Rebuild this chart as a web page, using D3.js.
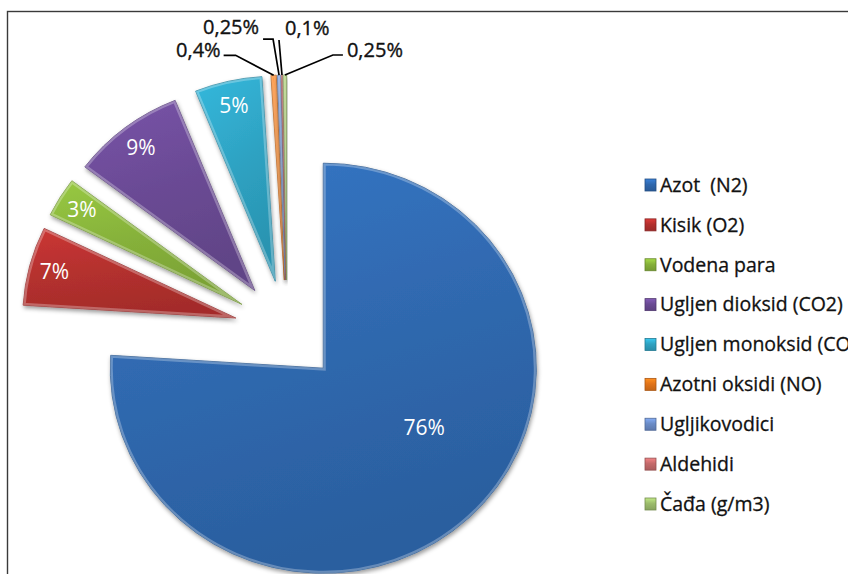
<!DOCTYPE html>
<html>
<head>
<meta charset="utf-8">
<script src="https://cdn.jsdelivr.net/npm/d3@7"></script>
<style>
  body { margin: 0; background: #fff; }
  svg { display: block; font-family: "Open Sans", Lato, sans-serif; }
</style>
</head>
<body>
<div id="chart"></div>
<script>
// Data
var categories = ["Azot  (N2)", "Kisik (O2)", "Vodena para", "Ugljen dioksid (CO2)",
    "Ugljen monoksid (CO)", "Azotni oksidi (NO)", "Ugljikovodici", "Aldehidi", "Čađa (g/m3)"];
var shares = [76, 6.2, 3.1, 8.6, 5.1, 0.4, 0.25, 0.1, 0.25];
var shareLabels = ["76%", "7%", "3%", "9%", "5%", "0,4%", "0,25%", "0,1%", "0,25%"];
var colors = ["#2f68ae", "#b3302e", "#86b13a", "#6a4a94", "#2ea2c2",
    "#e2741a", "#6b8cc7", "#c46a6b", "#9cbc6c"];

var width = 848, height = 574;
var cx = 287, cy = 331;          // pie centre
var rx = 213, sy = 205 / 213;    // radius and vertical squash of the original
var explode = 53;

var svg = d3.select("#chart").append("svg")
    .attr("width", width)
    .attr("height", height);

var defs = svg.append("defs");

var shadow = defs.append("filter").attr("id", "shadow")
    .attr("x", "-20%").attr("y", "-20%").attr("width", "140%").attr("height", "140%");
shadow.append("feDropShadow")
    .attr("dx", 1).attr("dy", 2.5).attr("stdDeviation", 2)
    .attr("flood-color", "#000").attr("flood-opacity", 0.4);

// outer frame (runs off the right and bottom edge)
svg.append("rect")
    .attr("x", 7.5).attr("y", 11.5)
    .attr("width", 1000).attr("height", 800)
    .attr("fill", "none")
    .attr("stroke", "#3a3a3a")
    .attr("stroke-width", 1.4);

var pie = d3.pie().sort(null).value(function(d) { return d; });
var slices = pie(shares);

var arc = d3.arc().innerRadius(0).outerRadius(rx);

function midAngle(d) { return (d.startAngle + d.endAngle) / 2; }

// screen position for an angle / radius around an exploded slice
function point(d, a, r) {
    var m = midAngle(d);
    var ox = explode * Math.sin(m), oy = -explode * Math.cos(m);
    return [cx + ox + r * Math.sin(a), cy + (oy - r * Math.cos(a)) * sy];
}

// gradients per slice
colors.forEach(function(c, i) {
    var g = defs.append("linearGradient").attr("id", "grad" + i)
        .attr("x1", 0).attr("y1", 0).attr("x2", 0.3).attr("y2", 1);
    g.append("stop").attr("offset", "0%").attr("stop-color", d3.color(c).brighter(0.35));
    g.append("stop").attr("offset", "55%").attr("stop-color", c);
    g.append("stop").attr("offset", "100%").attr("stop-color", d3.color(c).darker(0.25));
});

var pieG = svg.append("g")
    .attr("transform", "translate(" + cx + "," + cy + ") scale(1," + sy + ")");

var sliceG = pieG.selectAll("g.slice")
    .data(slices)
    .join("g")
        .attr("class", "slice")
        .attr("filter", "url(#shadow)")
        .attr("transform", function(d) {
            var m = midAngle(d);
            return "translate(" + (explode * Math.sin(m)) + "," + (-explode * Math.cos(m)) + ")";
        });

sliceG.append("clipPath")
    .attr("id", function(d, i) { return "clip" + i; })
    .append("path")
        .attr("d", arc);

sliceG.append("path")
    .attr("d", arc)
    .attr("fill", function(d, i) { return "url(#grad" + i + ")"; })
    .attr("stroke", function(d, i) { return d3.color(colors[i]).darker(0.6); })
    .attr("stroke-width", 0.8);

// bevel highlight along the inside of the edges
sliceG.append("path")
    .attr("d", arc)
    .attr("fill", "none")
    .attr("clip-path", function(d, i) { return "url(#clip" + i + ")"; })
    .attr("stroke", "#fff")
    .attr("stroke-opacity", 0.28)
    .attr("stroke-width", 5);

// labels inside the bigger slices
var maxShare = d3.max(shares);
svg.append("g").selectAll("text")
    .data(slices.filter(function(d) { return d.value >= 1; }))
    .join("text")
        .attr("transform", function(d) {
            var p = d.value === maxShare
                ? point(d, midAngle(d) - 0.27, rx * 0.555)
                : point(d, midAngle(d), rx * 0.88);
            return "translate(" + p[0] + "," + p[1] + ")";
        })
        .attr("text-anchor", "middle")
        .attr("dy", "0.35em")
        .attr("fill", "#fff")
        .style("font-size", "21px")
        .text(function(d) { return shareLabels[d.index]; });

// callouts for the tiny slices: elbow offset from slice tip, tail, text gap, text lift
var callout = [
    {ex: -38, ey: -20, tail: -12, gap: -3, lift: -5},
    {ex: -6,  ey: -36, tail: -10, gap: -4, lift: -12},
    {ex: -3,  ey: -35, tail: 0,   gap: 6,  lift: -12},
    {ex: 48,  ey: -20, tail: 10,  gap: 4,  lift: -5}
];
var tiny = slices.filter(function(d) { return d.value < 1; });
var calloutG = svg.append("g");
tiny.forEach(function(d, k) {
    var c = callout[k];
    var p = point(d, midAngle(d), rx);
    var e = [p[0] + c.ex, p[1] + c.ey];
    var t = [e[0] + c.tail, e[1]];
    calloutG.append("path")
        .attr("d", d3.line()([p, e, t]))
        .attr("fill", "none")
        .attr("stroke", "#000")
        .attr("stroke-width", 1.7);
    var right = c.ex > 0 || k >= tiny.length / 2;
    calloutG.append("text")
        .attr("x", t[0] + c.gap)
        .attr("y", t[1] + c.lift)
        .attr("dy", "0.35em")
        .attr("text-anchor", right ? "start" : "end")
        .attr("fill", "#111")
        .attr("stroke", "#111")
        .attr("stroke-width", 0.35)
        .style("font-size", "20px")
        .text(shareLabels[d.index]);
});

// legend
var legendY = d3.scalePoint()
    .domain(d3.range(categories.length))
    .range([185, 504]);

colors.forEach(function(c, i) {
    var g = defs.append("linearGradient").attr("id", "lgrad" + i)
        .attr("x1", 0).attr("y1", 0).attr("x2", 0).attr("y2", 1);
    g.append("stop").attr("offset", "0%").attr("stop-color", d3.color(c).brighter(0.6));
    g.append("stop").attr("offset", "45%").attr("stop-color", c);
    g.append("stop").attr("offset", "100%").attr("stop-color", d3.color(c).darker(0.4));
});

var legend = svg.append("g").selectAll("g")
    .data(categories)
    .join("g")
        .attr("transform", function(d, i) { return "translate(645," + legendY(i) + ")"; });

legend.append("rect")
    .attr("x", 0).attr("y", -6)
    .attr("width", 11).attr("height", 12)
    .attr("fill", function(d, i) { return "url(#lgrad" + i + ")"; })
    .attr("stroke", function(d, i) { return d3.color(colors[i]).darker(0.8); })
    .attr("stroke-width", 0.8);

legend.append("text")
    .attr("x", 15)
    .attr("dy", "0.35em")
    .attr("fill", "#111")
    .attr("stroke", "#111")
    .attr("stroke-width", 0.3)
    .style("font-size", "19.5px")
    .style("white-space", "pre")
    .text(function(d) { return d; });
</script>
</body>
</html>
